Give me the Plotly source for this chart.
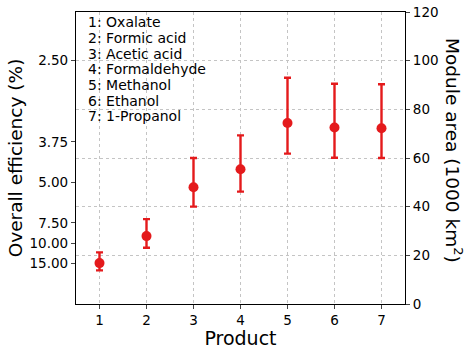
import plotly.graph_objects as go

products = [1, 2, 3, 4, 5, 6, 7]
area = [16.8, 27.9, 48.0, 55.4, 74.4, 72.5, 72.2]
err_plus = [4.4, 7.0, 12.0, 13.9, 18.6, 18.0, 18.1]
err_minus = [3.0, 4.8, 8.0, 9.2, 12.6, 12.4, 12.2]
eff_ticks = [2.50, 3.75, 5.00, 7.50, 10.00, 15.00]
eff_labels = ["2.50", "3.75", "5.00", "7.50", "10.00", "15.00"]
legend_lines = ["1: Oxalate", "2: Formic acid", "3: Acetic acid", "4: Formaldehyde",
                "5: Methanol", "6: Ethanol", "7: 1-Propanol"]
area_ticks = [0, 20, 40, 60, 80, 100, 120]

red = "#e41a1c"
font = "DejaVu Sans"
grid = "#c4c4c4"

L, R, T, B = 76, 61, 12, 45
W, H = 466, 349
pw, ph = W - L - R, H - T - B

fig = go.Figure()
fig.add_trace(go.Scatter(
    x=products, y=area, mode="markers", yaxis="y2",
    marker=dict(color=red, size=10),
    error_y=dict(type="data", array=err_plus, arrayminus=err_minus,
                 color=red, thickness=2.4, width=3.5),
    showlegend=False))
fig.add_trace(go.Scatter(x=[None], y=[None], yaxis="y", showlegend=False))

fig.update_layout(
    width=W, height=H,
    margin=dict(l=L, r=R, t=T, b=B, autoexpand=False),
    plot_bgcolor="white", paper_bgcolor="white",
    font=dict(family=font, color="black", size=13.5),
    xaxis=dict(range=[0.5, 7.5], tickvals=products, ticks="outside", ticklen=4,
               showline=True, linecolor="black", linewidth=1.2, mirror=True,
               showgrid=True, gridcolor=grid, griddash="3px,3px", gridwidth=1,
               zeroline=False, tickfont=dict(size=13.5), automargin=False,
               title=dict(text="Product", font=dict(size=19), standoff=3)),
    yaxis=dict(range=[0, 120], tickvals=[250 / e for e in eff_ticks], ticktext=eff_labels,
               ticks="outside", ticklen=4, showline=True, linecolor="black", linewidth=1.2,
               showgrid=False, zeroline=False, tickfont=dict(size=13.5), automargin=False,
               title=dict(text="Overall efficiency (%)", font=dict(size=18.5), standoff=2)),
    yaxis2=dict(range=[0, 120], tickvals=area_ticks, overlaying="y", side="right",
                ticks="outside", ticklen=4, showline=True, linecolor="black", linewidth=1.2,
                showgrid=True, gridcolor=grid, griddash="3px,3px", gridwidth=1,
                zeroline=False, tickfont=dict(size=13.5), automargin=False),
)

for i, t in enumerate(legend_lines):
    yc = (H - B - (22.5 + i * 15.6)) / ph
    fig.add_annotation(text=t, xref="paper", yref="paper", x=(86 - L) / pw, y=yc,
                       xanchor="left", yanchor="middle", showarrow=False,
                       font=dict(size=14, family=font))

fig.add_annotation(text="Module area (1000 km<sup>2</sup>)", xref="paper", yref="paper",
                   x=(454 - L) / pw, y=(H - B - 150) / ph, xanchor="center", yanchor="middle",
                   textangle=90, showarrow=False, font=dict(size=18.5, family=font))

fig.write_html("out.html")
